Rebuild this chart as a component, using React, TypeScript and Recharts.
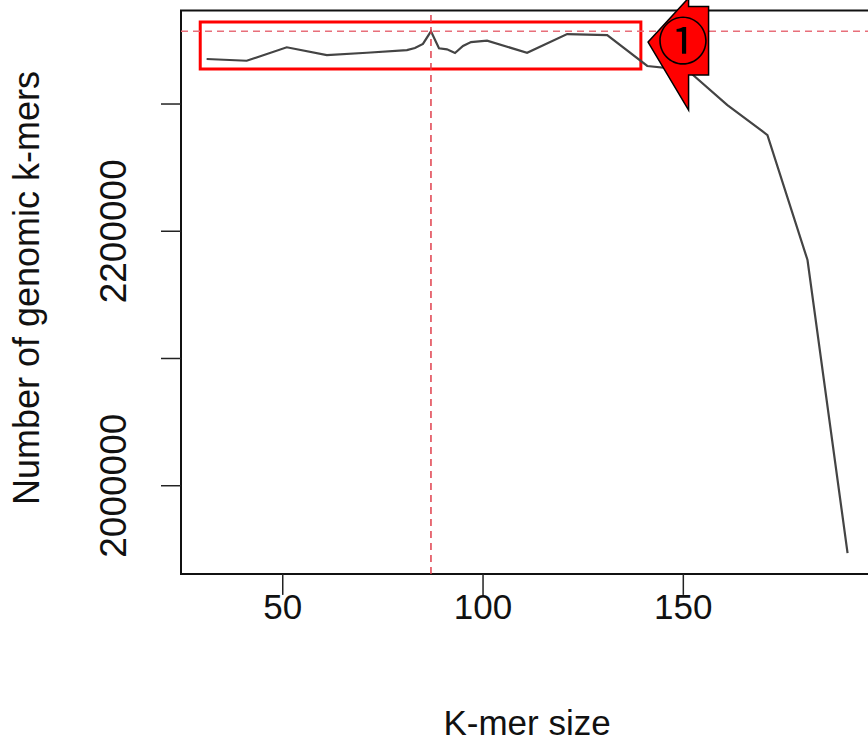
import React from 'react';
import { LineChart, Line, XAxis, YAxis, ReferenceLine, ReferenceArea, ReferenceDot, Label } from 'recharts';

// ---- data ----
const kmerSizes = [31, 41, 51, 61, 71, 81, 83, 85, 87, 89, 91, 93, 95, 97, 101, 111, 121, 131, 141, 151, 161, 171, 181, 191];
const genomicKmers = [
  2335400, 2334000, 2344600, 2338500, 2340300, 2342400, 2344000, 2347200, 2357100, 2343800, 2343000, 2340100,
  2345600, 2348700, 2349800, 2340300, 2355000, 2354200, 2329900, 2326700, 2299200, 2275600, 2177400, 1947100,
];
const xTicks = [50, 100, 150];
const yTicks = [2000000, 2100000, 2200000, 2300000];
const yTickLabels = ['2000000', '', '2200000', ''];
const bestK = 87;
const xTitle = 'K-mer size';
const yTitle = 'Number of genomic k-mers';
const calloutLabel = '①';

// annotation placement (data coordinates)
const highlightX = [29.4, 139.4];
const highlightY = [2327500, 2364450];
const arrowTip = { k: 141.2, n: 2348730 };

const FONT = '"Liberation Sans", Arial, Helvetica, sans-serif';

const rows = kmerSizes.map((k, i) => ({ k, n: genomicKmers[i] }));
const kMinD = Math.min(...kmerSizes);
const kMaxD = Math.max(...kmerSizes);
const nMinD = Math.min(...genomicKmers);
const nMaxD = Math.max(...genomicKmers);
const xPad = (kMaxD - kMinD) * 0.04;
const yPad = (nMaxD - nMinD) * 0.04;
const xDomain: [number, number] = [kMinD - xPad, kMaxD + xPad];
const yDomain: [number, number] = [nMinD - yPad, nMaxD + yPad];

const XTick = (props: any) => {
  const { x, y, payload } = props;
  return (
    <text x={x} y={y + 24.5} textAnchor="middle" fontSize={35} fontFamily={FONT} fill="#111">
      {payload.value}
    </text>
  );
};

const YTick = (props: any) => {
  const { x, y, payload } = props;
  const idx = yTicks.indexOf(payload.value);
  const label = idx >= 0 ? yTickLabels[idx] : '';
  if (!label) return <g />;
  return (
    <text
      x={x}
      y={y}
      transform={`rotate(-90, ${x}, ${y})`}
      textAnchor="middle"
      fontSize={37}
      fontFamily={FONT}
      fill="#111"
    >
      {label}
    </text>
  );
};

const Arrow = (props: any) => {
  const { cx, cy } = props;
  if (cx == null || cy == null) return <g />;
  const p = (dx: number, dy: number) => `${cx + dx},${cy + dy}`;
  const pts = [p(0, 0), p(40.5, -44), p(40.5, -35.5), p(60.5, -35.5), p(60.5, 33), p(40.5, 33), p(40.5, 68)].join(' ');
  return (
    <g>
      <polygon points={pts} fill="#ff0000" stroke="#000" strokeWidth={1.5} strokeLinejoin="miter" />
      <text
        x={cx + 35}
        y={cy + 18}
        textAnchor="middle"
        fontSize={51}
        fontFamily='"Noto Sans CJK JP", "Noto Sans CJK SC", "DejaVu Sans", sans-serif'
        fill="#000"
      >
        {calloutLabel}
      </text>
    </g>
  );
};

export default function App() {
  return (
    <div style={{ position: 'absolute', left: 0, top: 0, width: 868, height: 741, background: '#fff' }}>
      <LineChart
        width={868}
        height={741}
        data={rows}
        margin={{ top: 10.5, right: -5.2, bottom: 0, left: 0 }}
      >
        <XAxis
          dataKey="k"
          type="number"
          domain={xDomain}
          ticks={xTicks}
          allowDataOverflow
          height={167.1}
          axisLine={false}
          tickLine={{ stroke: '#222', strokeWidth: 1.5 }}
          tickSize={21}
          tickMargin={0}
          tick={<XTick />}
          interval={0}
        >
          <Label
            content={(p: any) => {
              const vb = p.viewBox || {};
              return (
                <text
                  x={vb.x + vb.width / 2}
                  y={735}
                  textAnchor="middle"
                  fontSize={35}
                  fontFamily={FONT}
                  fill="#111"
                >
                  {xTitle}
                </text>
              );
            }}
          />
        </XAxis>
        <YAxis
          dataKey="n"
          type="number"
          domain={yDomain}
          ticks={yTicks}
          allowDataOverflow
          width={181}
          axisLine={false}
          tickLine={{ stroke: '#222', strokeWidth: 1.5 }}
          tickSize={20}
          tickMargin={34.5}
          tick={<YTick />}
          interval={0}
        >
          <Label
            content={() => (
              <text
                x={39}
                y={288}
                transform="rotate(-90, 39, 288)"
                textAnchor="middle"
                fontSize={36}
                fontFamily={FONT}
                fill="#111"
              >
                {yTitle}
              </text>
            )}
          />
        </YAxis>
        <ReferenceArea
          x1={xDomain[0]}
          x2={xDomain[1]}
          y1={yDomain[0]}
          y2={yDomain[1]}
          fill="none"
          fillOpacity={0}
          stroke="#111"
          strokeWidth={2}
          ifOverflow="visible"
        />
        <Line
          type="linear"
          dataKey="n"
          stroke="#444"
          strokeWidth={2.2}
          dot={false}
          activeDot={false}
          isAnimationActive={false}
        />
        <ReferenceLine x={bestK} stroke="#e0404c" strokeWidth={1.5} strokeDasharray="7 5" ifOverflow="visible" />
        <ReferenceLine y={nMaxD} stroke="#e86f7a" strokeWidth={1.5} strokeDasharray="7 5" ifOverflow="visible" />
        <ReferenceArea
          x1={highlightX[0]}
          x2={highlightX[1]}
          y1={highlightY[0]}
          y2={highlightY[1]}
          fill="none"
          fillOpacity={0}
          stroke="#ff0000"
          strokeWidth={3}
          ifOverflow="visible"
        />
        <ReferenceDot x={arrowTip.k} y={arrowTip.n} r={1} ifOverflow="visible" shape={(p: any) => <Arrow {...p} />} />
      </LineChart>
    </div>
  );
}
